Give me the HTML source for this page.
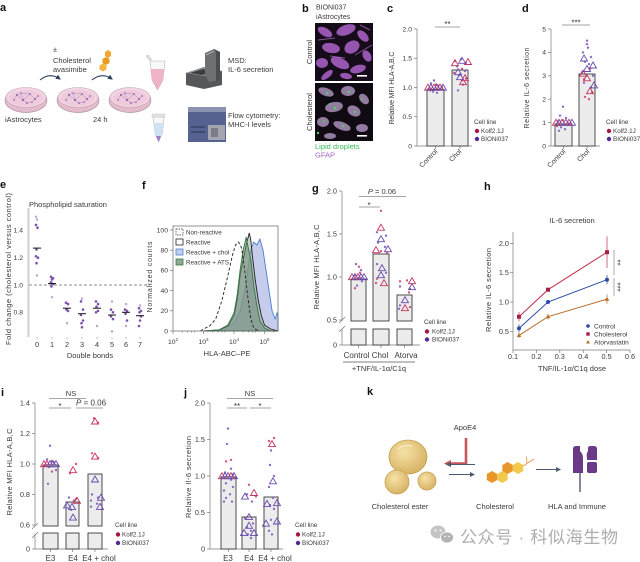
<!DOCTYPE html>
<html><head><meta charset="utf-8"><style>
html,body{margin:0;padding:0;background:#fff;}
svg{display:block;}
text{font-family:"Liberation Sans","Noto Sans CJK SC",sans-serif;fill:#3a3a3a;}
.pl{font-weight:bold;font-size:11px;fill:#111;}
.tk{font-size:6.8px;fill:#555;}
.tk7{font-size:7.3px;fill:#555;}
.ax{font-size:7px;}
.lg{font-size:6.3px;}
.bar{fill:#ececec;stroke:#3a3a3a;stroke-width:0.9;}
.axl{stroke:#777;stroke-width:0.7;fill:none;}
.dr circle{fill:#d25a75;}
.dp circle{fill:#8c6cc2;}
.tr use{stroke:#c6335a;}
.tp use{stroke:#6a4aad;}
</style></head><body>
<svg width="640" height="562" viewBox="0 0 640 562" xmlns="http://www.w3.org/2000/svg">
<defs>
<path id="tri" d="M0,-3.3 L3.5,2.7 L-3.5,2.7 Z" fill="none" stroke-width="0.9"/>
<marker id="ahd" markerWidth="6" markerHeight="6" refX="4" refY="3" orient="auto" markerUnits="userSpaceOnUse"><path d="M0,0.5 L5,3 L0,5.5 Z" fill="#2d4060"/></marker>
<marker id="ahk" markerWidth="6" markerHeight="6" refX="4" refY="3" orient="auto" markerUnits="userSpaceOnUse"><path d="M0,0.5 L5,3 L0,5.5 Z" fill="#4a5a70"/></marker>
<marker id="ahr" markerWidth="8" markerHeight="8" refX="5" refY="4" orient="auto" markerUnits="userSpaceOnUse"><path d="M0,0.5 L7,4 L0,7.5 Z" fill="#c8565a"/></marker>
<radialGradient id="gold" cx="0.4" cy="0.35" r="0.7"><stop offset="0" stop-color="#f6e2a6"/><stop offset="1" stop-color="#d6b060"/></radialGradient>
<g id="dish">
 <ellipse cx="0" cy="2.5" rx="21" ry="12" fill="#e2bccd" stroke="#b592a5" stroke-width="0.7"/>
 <ellipse cx="0" cy="-0.5" rx="20" ry="10" fill="#f3d6e3" stroke="#c7a3b6" stroke-width="0.6"/>
 <ellipse cx="0" cy="0" rx="17" ry="8" fill="#eecadb"/>
 <g fill="#7b5aa6"><circle cx="-9" cy="-3" r="1"/><circle cx="-3" cy="2" r="1.1"/><circle cx="4" cy="-4" r="0.9"/><circle cx="9" cy="1" r="1"/><circle cx="-12" cy="2" r="0.8"/><circle cx="1" cy="5" r="0.9"/><circle cx="12" cy="-2" r="0.8"/><circle cx="-5" cy="-5" r="0.8"/><circle cx="6" cy="4" r="0.8"/></g>
 <g stroke="#9b7cc0" stroke-width="0.4" fill="none"><path d="M-12,2 L-9,-3 L-3,2 L4,-4 L9,1 L12,-2"/><path d="M-5,-5 L-3,2 L1,5 L6,4 L9,1"/><path d="M-9,-3 L-5,-5 L4,-4"/></g>
</g>
</defs>

<!-- ===== Panel a ===== -->
<text class="pl" x="0" y="11">a</text>
<use href="#dish" x="26" y="98"/>
<use href="#dish" x="78" y="98"/>
<use href="#dish" x="130" y="98"/>
<text x="5" y="122" font-size="7.5">iAstrocytes</text>
<text x="93" y="122" font-size="7.5">24 h</text>
<text x="53" y="52" font-size="7.5">±</text>
<text x="53" y="63" font-size="7.5">Cholesterol</text>
<text x="53" y="72" font-size="7.5">avasimibe</text>
<path d="M40,80 Q50,72 60,79" stroke="#2d4060" stroke-width="1.1" fill="none" marker-end="url(#ahd)"/>
<path d="M92,80 Q102,72 112,79" stroke="#2d4060" stroke-width="1.1" fill="none" marker-end="url(#ahd)"/>
<g>
 <polygon points="108,50 111,52 111,56 108,58 105,56 105,52" fill="#f0a830"/>
 <polygon points="106,57 109.5,59 109.5,63 106,65 102.5,63 102.5,59" fill="#e99a22"/>
 <polygon points="103,63.5 106.5,65.5 106.5,69.5 103,71.5 99.5,69.5 99.5,65.5" fill="#f3b640"/>
</g>
<!-- tubes -->
<path d="M150,61 L165,61 L163,80 L157.5,90 L152,80 Z" fill="#f7f7f7" stroke="#b8b8b8" stroke-width="0.6"/>
<path d="M150.6,69 L164.4,69 L163,80 L157.5,90 L152,80 Z" fill="#f0b3c6"/>
<path d="M150,61 L146,56 L148,55 L152,60" fill="#ddd" stroke="#b8b8b8" stroke-width="0.5"/>
<path d="M153,117 L164,117 L162.5,133 L158.5,142 L155,133 Z" fill="#f7f7f7" stroke="#b8b8b8" stroke-width="0.6"/>
<path d="M153.5,123 L163.5,123 L162.5,133 L158.5,142 L155,133 Z" fill="#cfe2f3"/>
<path d="M156,136 L161,136 L158.5,142 Z" fill="#9b7cc8"/>
<rect x="152" y="114" width="13" height="3" fill="#e3e3e3" stroke="#bbb" stroke-width="0.4"/>
<!-- MSD machine -->
<polygon points="186,73 204,67 222,71 222,85 204,89 186,85" fill="#55575b"/>
<polygon points="186,73 204,67 222,71 204,76" fill="#8d8f93"/>
<polygon points="190,73 203,69 214,72 202,75" fill="#3c3e41"/>
<path d="M205,53 L214,49 L220,52 L220,80 L209,82 L205,75 Z" fill="#6e7074"/>
<path d="M214,49 L220,52 L220,80 L216,81 L216,52 Z" fill="#4b4d50"/>
<path d="M206,55 L214,51" stroke="#a4a6aa" stroke-width="1.2"/>
<text x="228" y="63" font-size="7.5">MSD:</text>
<text x="228" y="72" font-size="7.5">IL-6 secretion</text>
<!-- flow cytometer -->
<rect x="188" y="110" width="38" height="32" fill="#55618f"/>
<rect x="188" y="107" width="38" height="5" fill="#8a92b2"/>
<rect x="208" y="125" width="17" height="15" fill="#a3a6b0"/>
<rect x="211" y="128" width="7" height="9" fill="#7a7d86"/>
<rect x="191" y="126" width="14" height="2" fill="#3f4a73"/>
<rect x="191" y="131" width="14" height="2" fill="#3f4a73"/>
<text x="228" y="118" font-size="7.5">Flow cytometry:</text>
<text x="228" y="127" font-size="7.5">MHC-I levels</text>

<!-- ===== Panel b ===== -->
<text class="pl" x="302" y="12">b</text>
<text x="316" y="9.5" font-size="7">BIONi037</text>
<text x="316" y="19" font-size="7">iAstrocytes</text>
<rect x="315" y="23" width="58" height="58" fill="#150b19"/>
<g fill="#a45fc0" opacity="0.9">
 <ellipse cx="325" cy="32" rx="8" ry="4" transform="rotate(30 325 32)"/>
 <ellipse cx="346" cy="30" rx="10" ry="5" transform="rotate(-20 346 30)"/>
 <ellipse cx="363" cy="36" rx="7" ry="4" transform="rotate(45 363 36)"/>
 <ellipse cx="331" cy="48" rx="9" ry="5" transform="rotate(10 331 48)"/>
 <ellipse cx="352" cy="47" rx="8" ry="6" transform="rotate(-30 352 47)"/>
 <ellipse cx="367" cy="56" rx="6" ry="4" transform="rotate(60 367 56)"/>
 <ellipse cx="322" cy="63" rx="6" ry="5"/>
 <ellipse cx="340" cy="63" rx="10" ry="5" transform="rotate(25 340 63)"/>
 <ellipse cx="358" cy="69" rx="8" ry="4" transform="rotate(-15 358 69)"/>
 <ellipse cx="327" cy="75" rx="7" ry="3" transform="rotate(-40 327 75)"/>
 <ellipse cx="346" cy="76" rx="6" ry="3" transform="rotate(10 346 76)"/>
</g>
<g stroke="#b070d0" stroke-width="1" opacity="0.7"><path d="M318,40 L335,38"/><path d="M355,55 L372,45"/><path d="M330,56 L345,58"/><path d="M360,25 L370,30"/></g>
<rect x="357" y="75" width="10" height="1.6" fill="#fff"/>
<rect x="315" y="83" width="58" height="58" fill="#100a12"/>
<g fill="#a98fb8" opacity="0.85">
 <ellipse cx="326" cy="92" rx="8" ry="4" transform="rotate(20 326 92)"/>
 <ellipse cx="348" cy="91" rx="7" ry="5"/>
 <ellipse cx="364" cy="99" rx="6" ry="4" transform="rotate(50 364 99)"/>
 <ellipse cx="334" cy="107" rx="9" ry="5" transform="rotate(-10 334 107)"/>
 <ellipse cx="354" cy="111" rx="7" ry="5" transform="rotate(30 354 111)"/>
 <ellipse cx="323" cy="122" rx="6" ry="5"/>
 <ellipse cx="342" cy="126" rx="9" ry="4" transform="rotate(20 342 126)"/>
 <ellipse cx="362" cy="128" rx="6" ry="4"/>
 <ellipse cx="330" cy="136" rx="6" ry="3"/>
</g>
<g fill="#4fd06a"><circle cx="327" cy="93" r="1.2"/><circle cx="349" cy="92" r="1.3"/><circle cx="335" cy="108" r="1.4"/><circle cx="355" cy="112" r="1.2"/><circle cx="343" cy="126" r="1.3"/><circle cx="324" cy="121" r="1"/><circle cx="362" cy="99" r="1"/><circle cx="330" cy="104" r="1"/><circle cx="318" cy="133" r="1.2"/></g>
<rect x="357" y="135" width="10" height="1.6" fill="#fff"/>
<text transform="translate(312,52) rotate(-90)" text-anchor="middle" font-size="7.5">Control</text>
<text transform="translate(312,112) rotate(-90)" text-anchor="middle" font-size="7.5">Cholesterol</text>
<text x="315" y="149" font-size="7.5" style="fill:#3dbb5a">Lipid droplets</text>
<text x="315" y="157.5" font-size="7.5" style="fill:#a566c8">GFAP</text>

<!-- ===== Panel c ===== -->
<text class="pl" x="387" y="12">c</text>
<line class="axl" x1="417" y1="29" x2="417" y2="146"/>
<g class="axl"><line x1="414" y1="29" x2="417" y2="29"/><line x1="414" y1="58.25" x2="417" y2="58.25"/><line x1="414" y1="87.5" x2="417" y2="87.5"/><line x1="414" y1="116.75" x2="417" y2="116.75"/><line x1="414" y1="146" x2="417" y2="146"/>
<line x1="417" y1="146" x2="472" y2="146"/><line x1="435.5" y1="146" x2="435.5" y2="149"/><line x1="460" y1="146" x2="460" y2="149"/></g>
<g class="tk" text-anchor="end"><text x="412" y="31.3">2.0</text><text x="412" y="60.5">1.5</text><text x="412" y="89.8">1.0</text><text x="412" y="119">0.5</text><text x="412" y="148.3">0</text></g>
<text class="ax" transform="translate(394,88) rotate(-90)" text-anchor="middle" textLength="73">Relative MFI HLA-A,B,C</text>
<rect class="bar" x="427" y="89.3" width="17" height="56.7"/>
<rect class="bar" x="452" y="70" width="16" height="76"/>
<line x1="435" y1="27" x2="460" y2="27" stroke="#888" stroke-width="0.7"/>
<text x="447.5" y="27" font-size="8" text-anchor="middle">**</text>
<text class="ax" transform="translate(438,152) rotate(-45)" text-anchor="end" font-size="7.5">Control</text>
<text class="ax" transform="translate(462,152) rotate(-45)" text-anchor="end" font-size="7.5">Chol</text>
<g class="dp"><circle cx="434" cy="80.5" r="1.2"/><circle cx="431" cy="83.4" r="1.2"/><circle cx="438" cy="85.7" r="1.2"/><circle cx="429" cy="88.7" r="1.2"/><circle cx="441" cy="89.3" r="1.2"/><circle cx="433" cy="91.6" r="1.2"/><circle cx="437" cy="92.8" r="1.2"/>
<circle cx="461" cy="59.4" r="1.2"/><circle cx="457" cy="66.4" r="1.2"/><circle cx="465" cy="71.1" r="1.2"/><circle cx="459" cy="75.2" r="1.2"/><circle cx="463" cy="84.6" r="1.2"/><circle cx="458" cy="90.4" r="1.2"/></g>
<g class="dr"><circle cx="436" cy="84.6" r="1.2"/><circle cx="442" cy="86.9" r="1.2"/><circle cx="430" cy="90.4" r="1.2"/>
<circle cx="455" cy="61.2" r="1.2"/><circle cx="466" cy="62.9" r="1.2"/><circle cx="462" cy="68.8" r="1.2"/><circle cx="454" cy="72.9" r="1.2"/><circle cx="466" cy="78.7" r="1.2"/></g>
<g class="tr"><use href="#tri" x="428" y="87.5"/><use href="#tri" x="434" y="87.5"/><use href="#tri" x="440" y="87.5"/><use href="#tri" x="455" y="63"/><use href="#tri" x="468" y="61.8"/><use href="#tri" x="465" y="78"/><use href="#tri" x="463" y="82"/></g>
<g class="tp"><use href="#tri" x="431" y="87.5"/><use href="#tri" x="437" y="87.5"/><use href="#tri" x="443" y="87.5"/><use href="#tri" x="462" y="60.6"/><use href="#tri" x="458" y="72"/><use href="#tri" x="460" y="77"/></g>
<text class="lg" x="474" y="124">Cell line</text>
<circle cx="477" cy="131" r="2.2" fill="#a3183f"/><text class="lg" x="481" y="133">Kolf2.1J</text>
<circle cx="477" cy="139" r="2.2" fill="#55299a"/><text class="lg" x="481" y="141">BIONi037</text>

<!-- ===== Panel d ===== -->
<text class="pl" x="522" y="12">d</text>
<line class="axl" x1="551" y1="29" x2="551" y2="146"/>
<g class="axl"><line x1="548" y1="29" x2="551" y2="29"/><line x1="548" y1="52.4" x2="551" y2="52.4"/><line x1="548" y1="75.8" x2="551" y2="75.8"/><line x1="548" y1="99.2" x2="551" y2="99.2"/><line x1="548" y1="122.6" x2="551" y2="122.6"/><line x1="548" y1="146" x2="551" y2="146"/>
<line x1="551" y1="146" x2="600" y2="146"/><line x1="563.5" y1="146" x2="563.5" y2="149"/><line x1="587" y1="146" x2="587" y2="149"/></g>
<g class="tk" text-anchor="end"><text x="546" y="31.3">5</text><text x="546" y="54.7">4</text><text x="546" y="78.1">3</text><text x="546" y="101.5">2</text><text x="546" y="124.9">1</text><text x="546" y="148.3">0</text></g>
<text class="ax" transform="translate(529,88) rotate(-90)" text-anchor="middle" textLength="81">Relative IL-6 secretion</text>
<rect class="bar" x="555" y="124" width="17" height="22"/>
<rect class="bar" x="579" y="74" width="16" height="72"/>
<line x1="562" y1="25" x2="590" y2="25" stroke="#888" stroke-width="0.7"/>
<text x="576" y="25.5" font-size="8" text-anchor="middle">***</text>
<text class="ax" transform="translate(566,152) rotate(-45)" text-anchor="end" font-size="7.5">Control</text>
<text class="ax" transform="translate(590,152) rotate(-45)" text-anchor="end" font-size="7.5">Chol</text>
<g class="dp"><circle cx="563" cy="106.7" r="1.2"/><circle cx="560" cy="115.6" r="1.2"/><circle cx="566" cy="117.9" r="1.2"/><circle cx="558" cy="121.4" r="1.2"/><circle cx="568" cy="124.9" r="1.2"/><circle cx="561" cy="127.3" r="1.2"/><circle cx="565" cy="129.2" r="1.2"/><circle cx="559" cy="130.8" r="1.2"/>
<circle cx="587" cy="40.7" r="1.2"/><circle cx="587" cy="44.2" r="1.2"/><circle cx="588" cy="47.7" r="1.2"/><circle cx="583" cy="52.4" r="1.2"/><circle cx="591" cy="57.1" r="1.2"/><circle cx="585" cy="61.8" r="1.2"/><circle cx="589" cy="64.1" r="1.2"/><circle cx="582" cy="72.3" r="1.2"/><circle cx="593" cy="75.8" r="1.2"/><circle cx="584" cy="82.8" r="1.2"/><circle cx="591" cy="87.5" r="1.2"/></g>
<g class="dr"><circle cx="563" cy="120.3" r="1.2"/><circle cx="569" cy="123.8" r="1.2"/><circle cx="557" cy="126.1" r="1.2"/>
<circle cx="590" cy="68.8" r="1.2"/><circle cx="584" cy="79.3" r="1.2"/><circle cx="592" cy="92.2" r="1.2"/><circle cx="585" cy="96.9" r="1.2"/><circle cx="589" cy="99.2" r="1.2"/></g>
<g class="tr"><use href="#tri" x="556" y="122.6"/><use href="#tri" x="562" y="122.6"/><use href="#tri" x="569" y="122.6"/><use href="#tri" x="587" y="78.1"/><use href="#tri" x="590" y="91"/><use href="#tri" x="583" y="73.5"/></g>
<g class="tp"><use href="#tri" x="559" y="122.6"/><use href="#tri" x="566" y="122.6"/><use href="#tri" x="572" y="122.6"/><use href="#tri" x="584" y="58.3"/><use href="#tri" x="593" y="65.3"/><use href="#tri" x="587" y="68.8"/><use href="#tri" x="594" y="85.2"/></g>
<text class="lg" x="606" y="124">Cell line</text>
<circle cx="609" cy="131" r="2.2" fill="#a3183f"/><text class="lg" x="613" y="133">Kolf2.1J</text>
<circle cx="609" cy="139" r="2.2" fill="#55299a"/><text class="lg" x="613" y="141">BIONi037</text>

<!-- ===== Panel e ===== -->
<text class="pl" x="0" y="188">e</text>
<text x="29" y="207" font-size="7.5">Phospholipid saturation</text>
<line x1="28.5" y1="208" x2="28.5" y2="337" stroke="#cfcfcf" stroke-width="2"/>
<g class="tk" text-anchor="end"><text x="23" y="232.7">1.4</text><text x="23" y="260">1.2</text><text x="23" y="287.3">1.0</text><text x="23" y="314.6">0.8</text></g>
<line x1="29" y1="285" x2="150" y2="285" stroke="#666" stroke-width="0.7" stroke-dasharray="3,2"/>
<g class="tk7" text-anchor="middle"><text x="37" y="347">0</text><text x="52" y="347">1</text><text x="67" y="347">2</text><text x="82" y="347">3</text><text x="97" y="347">4</text><text x="112" y="347">5</text><text x="126" y="347">6</text><text x="140" y="347">7</text></g>
<text x="90" y="358" font-size="7.5" text-anchor="middle">Double bonds</text>
<text transform="translate(11,269) rotate(-90)" text-anchor="middle" font-size="7.5" textLength="152">Fold change (cholesterol versus control)</text>
<g fill="#7b52ab">
<circle cx="36" cy="216.8" r="1.2" fill="#b9a3d6"/><circle cx="37" cy="219.5" r="1.2" fill="#b9a3d6"/><circle cx="36" cy="224.9" r="1.3"/><circle cx="37.5" cy="227.7" r="1.3"/><circle cx="36.5" cy="249.5" r="1.3"/><circle cx="36" cy="256.3" r="1.3"/><circle cx="38" cy="257.7" r="1.3"/><circle cx="36.5" cy="263.2" r="1.3"/><circle cx="37" cy="275.4" r="1.2" fill="#b9a3d6"/>
<circle cx="51" cy="276.8" r="1.3"/><circle cx="53" cy="278.2" r="1.3"/><circle cx="52" cy="279.5" r="1.3"/><circle cx="51" cy="282.3" r="1.3"/><circle cx="53" cy="284" r="1.3"/><circle cx="51.5" cy="286.4" r="1.3"/><circle cx="52" cy="297.3" r="1.2" fill="#b9a3d6"/>
<circle cx="66" cy="302.7" r="1.3"/><circle cx="68" cy="304.1" r="1.3"/><circle cx="66.5" cy="309.6" r="1.3"/><circle cx="68" cy="310.9" r="1.3"/><circle cx="67" cy="323.2" r="1.2" fill="#b9a3d6"/>
<circle cx="82" cy="298.7" r="1.2" fill="#b9a3d6"/><circle cx="81" cy="301.4" r="1.3"/><circle cx="83" cy="309.6" r="1.3"/><circle cx="81" cy="315" r="1.3"/><circle cx="83" cy="320.5" r="1.3"/><circle cx="81.5" cy="323.2" r="1.3"/><circle cx="82" cy="327.3" r="1.3"/>
<circle cx="96" cy="301.4" r="1.3"/><circle cx="98" cy="304.1" r="1.3"/><circle cx="96.5" cy="306.8" r="1.3"/><circle cx="98" cy="310.9" r="1.3"/><circle cx="96" cy="312.3" r="1.3"/><circle cx="97" cy="326" r="1.2" fill="#b9a3d6"/>
<circle cx="112" cy="301.4" r="1.2" fill="#b9a3d6"/><circle cx="111" cy="309.6" r="1.3"/><circle cx="113" cy="312.3" r="1.3"/><circle cx="111" cy="316.4" r="1.3"/><circle cx="113" cy="319.1" r="1.3"/><circle cx="112" cy="331.4" r="1.2" fill="#b9a3d6"/>
<circle cx="126" cy="304.1" r="1.2" fill="#b9a3d6"/><circle cx="125" cy="309.6" r="1.3"/><circle cx="127" cy="310.9" r="1.3"/><circle cx="125.5" cy="313.7" r="1.3"/><circle cx="127" cy="320.5" r="1.3"/><circle cx="126" cy="326" r="1.2" fill="#b9a3d6"/>
<circle cx="140" cy="305.5" r="1.2" fill="#b9a3d6"/><circle cx="139" cy="308.2" r="1.3"/><circle cx="141" cy="310.9" r="1.3"/><circle cx="139.5" cy="312.3" r="1.3"/><circle cx="141" cy="316.4" r="1.3"/><circle cx="140" cy="320.5" r="1.3"/><circle cx="139" cy="326" r="1.3"/>
</g>
<g stroke="#111" stroke-width="1"><line x1="33" y1="248.1" x2="41" y2="248.1"/><line x1="48" y1="283.6" x2="56" y2="283.6"/><line x1="63" y1="308.2" x2="71" y2="308.2"/><line x1="78" y1="313.7" x2="86" y2="313.7"/><line x1="93" y1="308.2" x2="101" y2="308.2"/><line x1="108" y1="315" x2="116" y2="315"/><line x1="122" y1="312.3" x2="130" y2="312.3"/><line x1="136" y1="315.7" x2="144" y2="315.7"/></g>
<g stroke="#999" stroke-width="0.6"><line x1="37" y1="337" x2="37" y2="339"/><line x1="52" y1="337" x2="52" y2="339"/><line x1="67" y1="337" x2="67" y2="339"/><line x1="82" y1="337" x2="82" y2="339"/><line x1="97" y1="337" x2="97" y2="339"/><line x1="112" y1="337" x2="112" y2="339"/><line x1="126" y1="337" x2="126" y2="339"/><line x1="140" y1="337" x2="140" y2="339"/></g>

<!-- ===== Panel f ===== -->
<text class="pl" x="142" y="189">f</text>
<path d="M218.75,331 L234,323 L240.1,311 L244.7,291 L247.7,270 L250.8,250 L253.8,242 L256.9,245 L259.9,239 L263,250 L266,270 L269.1,291 L272.1,311 L275.2,319 L277,313 L278,316 L278,331 Z" fill="#c6cdec" stroke="#4a7fd0" stroke-width="0.9"/>
<path d="M203.5,331 L218.75,330 L227.9,326 L234,316 L237.05,301 L240.1,275.5 L243.2,260 L246.2,245 L249.25,233 L250.8,240 L252.3,255 L255.35,280.5 L258.4,301 L261.45,316 L264.5,325 L270.6,329 L278,331 Z" fill="#a9aca4" fill-opacity="0.55" stroke="#222" stroke-width="0.9"/>
<path d="M203.5,331 L218.75,330 L227.9,325 L234,313 L237.05,296 L240.1,270 L243.2,250 L246.2,237 L247.7,245 L250.8,260 L253.8,286 L256.9,306 L259.9,321 L264.5,328 L270.6,331 Z" fill="#6e8f7a" fill-opacity="0.6" stroke="#2f7a3f" stroke-width="0.9"/>
<path d="M200.5,331 L203.5,329 L209.6,326 L215.7,319 L221.8,301 L227.9,275.5 L232.5,255 L235.5,245 L238.6,242 L241.6,248 L244.7,270 L247.7,296 L250.8,319 L253.8,328 L258.4,331" fill="none" stroke="#222" stroke-width="0.9" stroke-dasharray="3,2"/>
<rect x="173" y="226" width="105" height="105" fill="none" stroke="#666" stroke-width="0.7"/>
<g class="axl"><line x1="170" y1="230" x2="173" y2="230"/><line x1="170" y1="250.2" x2="173" y2="250.2"/><line x1="170" y1="270.4" x2="173" y2="270.4"/><line x1="170" y1="290.6" x2="173" y2="290.6"/><line x1="170" y1="310.8" x2="173" y2="310.8"/><line x1="170" y1="331" x2="173" y2="331"/>
<line x1="173" y1="331" x2="173" y2="334"/><line x1="203.5" y1="331" x2="203.5" y2="334"/><line x1="234" y1="331" x2="234" y2="334"/><line x1="264.5" y1="331" x2="264.5" y2="334"/>
<line x1="182.2" y1="331" x2="182.2" y2="332.5"/><line x1="187.6" y1="331" x2="187.6" y2="332.5"/><line x1="191.4" y1="331" x2="191.4" y2="332.5"/><line x1="194.3" y1="331" x2="194.3" y2="332.5"/><line x1="212.7" y1="331" x2="212.7" y2="332.5"/><line x1="218.1" y1="331" x2="218.1" y2="332.5"/><line x1="221.9" y1="331" x2="221.9" y2="332.5"/><line x1="224.8" y1="331" x2="224.8" y2="332.5"/><line x1="243.2" y1="331" x2="243.2" y2="332.5"/><line x1="248.6" y1="331" x2="248.6" y2="332.5"/><line x1="252.4" y1="331" x2="252.4" y2="332.5"/><line x1="255.3" y1="331" x2="255.3" y2="332.5"/><line x1="273.7" y1="331" x2="273.7" y2="332.5"/></g>
<g class="tk" text-anchor="end"><text x="168" y="232.3">100</text><text x="168" y="252.5">80</text><text x="168" y="272.7">60</text><text x="168" y="292.9">40</text><text x="168" y="313.1">20</text><text x="168" y="333.3">0</text></g>
<g class="tk" text-anchor="middle"><text x="173" y="344">10<tspan dy="-3" font-size="4.5">2</tspan></text><text x="203.5" y="344">10<tspan dy="-3" font-size="4.5">3</tspan></text><text x="234" y="344">10<tspan dy="-3" font-size="4.5">4</tspan></text><text x="264.5" y="344">10<tspan dy="-3" font-size="4.5">5</tspan></text></g>
<text x="227" y="356" font-size="7.5" text-anchor="middle">HLA-ABC–PE</text>
<text class="ax" transform="translate(152,277) rotate(-90)" text-anchor="middle" textLength="71">Normalized counts</text>
<rect x="176" y="229" width="7" height="6" fill="#fff" stroke="#333" stroke-width="0.7" stroke-dasharray="1.5,1"/>
<rect x="176" y="239" width="7" height="6" fill="#fff" stroke="#222" stroke-width="0.8"/>
<rect x="176" y="249" width="7" height="6" fill="#c6cdec" stroke="#4a7fd0" stroke-width="0.8"/>
<rect x="176" y="259" width="7" height="6" fill="#93a898" stroke="#2f7a3f" stroke-width="0.8"/>
<g class="lg"><text x="186" y="234.5">Non-reactive</text><text x="186" y="244.5">Reactive</text><text x="186" y="254.5">Reactive + chol</text><text x="186" y="264.5">Reactive + ATS</text></g>

<!-- ===== Panel g ===== -->
<text class="pl" x="312" y="192">g</text>
<line class="axl" x1="342" y1="191" x2="342" y2="321"/>
<line class="axl" x1="342" y1="329" x2="342" y2="345"/>
<g stroke="#777" stroke-width="0.7"><line x1="339" y1="323" x2="345" y2="317"/><line x1="339" y1="332" x2="345" y2="326"/></g>
<g class="axl"><line x1="339" y1="191" x2="342" y2="191"/><line x1="339" y1="234" x2="342" y2="234"/><line x1="339" y1="277" x2="342" y2="277"/><line x1="339" y1="320" x2="342" y2="320"/><line x1="339" y1="345" x2="342" y2="345"/>
<line x1="342" y1="345" x2="420" y2="345"/><line x1="358.5" y1="345" x2="358.5" y2="348"/><line x1="381" y1="345" x2="381" y2="348"/><line x1="404.5" y1="345" x2="404.5" y2="348"/></g>
<g class="tk7" text-anchor="end"><text x="337" y="193.5">2.0</text><text x="337" y="236.5">1.5</text><text x="337" y="279.5">1.0</text><text x="337" y="322.5">0.5</text><text x="337" y="347.5">0</text></g>
<text transform="translate(319,267) rotate(-90)" text-anchor="middle" font-size="7.5" textLength="85">Relative MFI HLA-A,B,C</text>
<rect class="bar" x="351" y="279" width="15" height="42"/><rect class="bar" x="351" y="329" width="15" height="16"/>
<rect class="bar" x="373" y="254" width="16" height="67"/><rect class="bar" x="373" y="329" width="16" height="16"/>
<rect class="bar" x="397" y="295" width="15" height="26"/><rect class="bar" x="397" y="329" width="15" height="16"/>
<g font-size="8" text-anchor="middle"><text x="356.5" y="358">Control</text><text x="380" y="358">Chol</text><text x="406" y="358">Atorva</text></g>
<line x1="343" y1="362" x2="415" y2="362" stroke="#555" stroke-width="0.7"/>
<text x="379" y="371" font-size="7.5" text-anchor="middle">+TNF/IL-1α/C1q</text>
<line x1="359" y1="196.5" x2="406" y2="196.5" stroke="#888" stroke-width="0.7"/>
<text x="382" y="194" font-size="7.5" text-anchor="middle"><tspan font-style="italic">P</tspan> = 0.06</text>
<line x1="359" y1="207" x2="380" y2="207" stroke="#888" stroke-width="0.7"/>
<text x="369" y="208" font-size="8" text-anchor="middle">*</text>
<g class="dp"><circle cx="356" cy="264.1" r="1.2"/><circle cx="361" cy="270.1" r="1.2"/><circle cx="355" cy="275.3" r="1.2"/><circle cx="362" cy="281.3" r="1.2"/><circle cx="357" cy="285.6" r="1.2"/>
<circle cx="377" cy="232.3" r="1.2"/><circle cx="386" cy="235.7" r="1.2"/><circle cx="378" cy="242.6" r="1.2"/><circle cx="385" cy="246.9" r="1.2"/><circle cx="377" cy="264.1" r="1.2"/><circle cx="386" cy="272.7" r="1.2"/>
<circle cx="400" cy="286.5" r="1.2"/><circle cx="410" cy="289" r="1.2"/><circle cx="400" cy="305.4" r="1.2"/><circle cx="399" cy="308.8" r="1.2"/></g>
<g class="dr"><circle cx="359" cy="266.7" r="1.2"/><circle cx="360" cy="272.7" r="1.2"/><circle cx="359" cy="278.7" r="1.2"/><circle cx="355" cy="288.2" r="1.2"/>
<circle cx="381" cy="210.8" r="1.2"/><circle cx="381" cy="251.2" r="1.2"/><circle cx="387" cy="252.9" r="1.2"/><circle cx="377" cy="278.7" r="1.2"/><circle cx="376" cy="283" r="1.2"/>
<circle cx="407" cy="280.4" r="1.2"/><circle cx="400" cy="281.3" r="1.2"/><circle cx="409" cy="292.5" r="1.2"/><circle cx="410" cy="307.1" r="1.2"/></g>
<g class="tr"><use href="#tri" x="352" y="277"/><use href="#tri" x="358" y="277"/><use href="#tri" x="381" y="227.5"/><use href="#tri" x="376" y="250"/><use href="#tri" x="384" y="283"/><use href="#tri" x="412" y="281"/><use href="#tri" x="405" y="308"/></g>
<g class="tp"><use href="#tri" x="355" y="277"/><use href="#tri" x="361" y="277"/><use href="#tri" x="364" y="277"/><use href="#tri" x="381" y="239"/><use href="#tri" x="388" y="249"/><use href="#tri" x="382" y="268"/><use href="#tri" x="381" y="275"/><use href="#tri" x="412" y="287"/><use href="#tri" x="405" y="300"/></g>
<text class="lg" x="424" y="324">Cell line</text>
<circle cx="427" cy="331.5" r="2.2" fill="#a3183f"/><text class="lg" x="432" y="333.5">Kolf2.1J</text>
<circle cx="427" cy="339.5" r="2.2" fill="#55299a"/><text class="lg" x="432" y="341.5">BIONi037</text>

<!-- ===== Panel h ===== -->
<text class="pl" x="484" y="190">h</text>
<text x="572" y="223" font-size="7.5" text-anchor="middle">IL-6 secretion</text>
<line class="axl" x1="513" y1="232" x2="513" y2="350"/>
<line class="axl" x1="513" y1="350" x2="630" y2="350"/>
<g class="axl"><line x1="510" y1="243.4" x2="513" y2="243.4"/><line x1="510" y1="272.7" x2="513" y2="272.7"/><line x1="510" y1="302" x2="513" y2="302"/><line x1="510" y1="331.3" x2="513" y2="331.3"/>
<line x1="513" y1="350" x2="513" y2="353"/><line x1="536.4" y1="350" x2="536.4" y2="353"/><line x1="559.8" y1="350" x2="559.8" y2="353"/><line x1="583.2" y1="350" x2="583.2" y2="353"/><line x1="606.6" y1="350" x2="606.6" y2="353"/><line x1="630" y1="350" x2="630" y2="353"/></g>
<g class="tk7" text-anchor="end"><text x="509" y="245.9">2.0</text><text x="509" y="275.2">1.5</text><text x="509" y="304.5">1.0</text><text x="509" y="333.8">0.5</text></g>
<g class="tk7" text-anchor="middle"><text x="513" y="359">0.1</text><text x="536.4" y="359">0.2</text><text x="559.8" y="359">0.3</text><text x="583.2" y="359">0.4</text><text x="606.6" y="359">0.5</text><text x="630" y="359">0.6</text></g>
<text x="572" y="371" font-size="7.5" text-anchor="middle">TNF/IL-1α/C1q dose</text>
<text transform="translate(491,290) rotate(-90)" text-anchor="middle" font-size="7.5" textLength="84">Relative IL-6 secretion</text>
<g stroke-width="0.7">
<line x1="519" y1="312" x2="519" y2="321.4" stroke="#c0304a"/><line x1="548" y1="288.5" x2="548" y2="291" stroke="#c0304a"/><line x1="607" y1="236.4" x2="607" y2="268" stroke="#c0304a"/>
<line x1="519" y1="324.3" x2="519" y2="332.5" stroke="#2a4aa8"/><line x1="607" y1="275" x2="607" y2="284.4" stroke="#2a4aa8"/>
<line x1="519" y1="333" x2="519" y2="338" stroke="#b8702a"/><line x1="548" y1="313.7" x2="548" y2="319.6" stroke="#b8702a"/><line x1="607" y1="294.4" x2="607" y2="303.8" stroke="#b8702a"/>
</g>
<polyline points="519,316.7 548,289.7 607,252.2" fill="none" stroke="#c0304a" stroke-width="1"/>
<polyline points="519,328.4 548,302 607,279.7" fill="none" stroke="#2a4aa8" stroke-width="1"/>
<polyline points="519,335.4 548,316.7 607,299.1" fill="none" stroke="#b8702a" stroke-width="1"/>
<g fill="#a81d44"><rect x="517" y="314.7" width="4" height="4"/><rect x="546" y="287.7" width="4" height="4"/><rect x="605" y="250.2" width="4" height="4"/></g>
<g fill="#2a4aa8"><circle cx="519" cy="328.4" r="2"/><circle cx="548" cy="302" r="2"/><circle cx="607" cy="279.7" r="2"/></g>
<g fill="#b8702a"><path d="M519,333 L521.3,337 L516.7,337 Z"/><path d="M548,314.3 L550.3,318.3 L545.7,318.3 Z"/><path d="M607,296.7 L609.3,300.7 L604.7,300.7 Z"/></g>
<line x1="614" y1="250" x2="614" y2="275" stroke="#888" stroke-width="0.7"/>
<line x1="614" y1="278" x2="614" y2="296" stroke="#888" stroke-width="0.7"/>
<text transform="translate(614.5,262.5) rotate(90)" text-anchor="middle" font-size="8">**</text>
<text transform="translate(614.5,287) rotate(90)" text-anchor="middle" font-size="8">***</text>
<circle cx="588" cy="326" r="1.8" fill="#2a4aa8"/><text x="594" y="328.5" font-size="6.6">Control</text>
<rect x="586.3" y="332.3" width="3.4" height="3.4" fill="#a81d44"/><text x="594" y="336.5" font-size="6.6">Cholesterol</text>
<path d="M588,340 L590,343.5 L586,343.5 Z" fill="#b8702a"/><text x="594" y="344.5" font-size="6.6">Atorvastatin</text>

<!-- ===== Panel i ===== -->
<text class="pl" x="1" y="396">i</text>
<line class="axl" x1="35" y1="403" x2="35" y2="526"/>
<line class="axl" x1="35" y1="534" x2="35" y2="549"/>
<g stroke="#777" stroke-width="0.7"><line x1="32" y1="529" x2="38" y2="523"/><line x1="32" y1="538" x2="38" y2="532"/></g>
<g class="axl"><line x1="32" y1="403" x2="35" y2="403"/><line x1="32" y1="433.5" x2="35" y2="433.5"/><line x1="32" y1="464" x2="35" y2="464"/><line x1="32" y1="494.5" x2="35" y2="494.5"/><line x1="32" y1="525" x2="35" y2="525"/><line x1="32" y1="549" x2="35" y2="549"/>
<line x1="35" y1="549" x2="108" y2="549"/><line x1="50.5" y1="549" x2="50.5" y2="552"/><line x1="72.5" y1="549" x2="72.5" y2="552"/><line x1="95" y1="549" x2="95" y2="552"/></g>
<g class="tk7" text-anchor="end"><text x="30" y="405.5">1.4</text><text x="30" y="436">1.2</text><text x="30" y="466.5">1.0</text><text x="30" y="497">0.8</text><text x="30" y="527.5">0.6</text><text x="30" y="551.5">0</text></g>
<text transform="translate(12,472) rotate(-90)" text-anchor="middle" font-size="7.5" textLength="87">Relative MFI HLA-A,B,C</text>
<rect class="bar" x="43" y="465" width="15" height="61"/><rect class="bar" x="43" y="533" width="15" height="16"/>
<rect class="bar" x="66" y="502" width="13" height="24"/><rect class="bar" x="66" y="533" width="13" height="16"/>
<rect class="bar" x="88" y="474" width="14" height="52"/><rect class="bar" x="88" y="533" width="14" height="16"/>
<g font-size="8" text-anchor="middle"><text x="50.5" y="561">E3</text><text x="73" y="561">E4</text><text x="99" y="561">E4 + chol</text></g>
<text x="71" y="396" font-size="7.5" text-anchor="middle">NS</text>
<line x1="49" y1="398.5" x2="86" y2="398.5" stroke="#888" stroke-width="0.7"/>
<line x1="49" y1="408" x2="71" y2="408" stroke="#888" stroke-width="0.7"/>
<text x="60" y="409" font-size="8" text-anchor="middle">*</text>
<line x1="76" y1="408" x2="103" y2="408" stroke="#888" stroke-width="0.7"/>
<text x="91" y="405.5" font-size="8" text-anchor="middle"><tspan font-style="italic">P</tspan> = 0.06</text>
<g class="dp"><circle cx="50" cy="445.7" r="1.2"/><circle cx="47" cy="459.4" r="1.2"/><circle cx="54" cy="462.5" r="1.2"/><circle cx="49" cy="467" r="1.2"/><circle cx="56" cy="470.1" r="1.2"/><circle cx="48" cy="483.8" r="1.2"/>
<circle cx="69" cy="497.6" r="1.2"/><circle cx="76" cy="499" r="1.2"/><circle cx="71" cy="509.8" r="1.2"/>
<circle cx="92" cy="494.5" r="1.2"/><circle cx="98" cy="497.6" r="1.2"/><circle cx="91" cy="500.6" r="1.2"/><circle cx="97" cy="503.7" r="1.2"/><circle cx="91" cy="506.7" r="1.2"/></g>
<g class="dr"><circle cx="52" cy="461" r="1.2"/><circle cx="45" cy="465.5" r="1.2"/><circle cx="52" cy="471.6" r="1.2"/>
<circle cx="76" cy="464" r="1.2"/><circle cx="70" cy="473.2" r="1.2"/><circle cx="74" cy="500.6" r="1.2"/>
<circle cx="94" cy="418.3" r="1.2"/><circle cx="98" cy="422.8" r="1.2"/><circle cx="92" cy="453.3" r="1.2"/><circle cx="98" cy="457.9" r="1.2"/></g>
<g class="tr"><use href="#tri" x="44" y="464"/><use href="#tri" x="47" y="464"/><use href="#tri" x="73" y="470"/><use href="#tri" x="77" y="500.6"/><use href="#tri" x="95" y="421.3"/><use href="#tri" x="95" y="456.4"/></g>
<g class="tp"><use href="#tri" x="50" y="464"/><use href="#tri" x="53" y="464"/><use href="#tri" x="56" y="464"/><use href="#tri" x="67" y="505.2"/><use href="#tri" x="72" y="506.7"/><use href="#tri" x="73" y="517.4"/><use href="#tri" x="95" y="479.3"/><use href="#tri" x="101" y="497.6"/><use href="#tri" x="100" y="506.7"/></g>
<text class="lg" x="115" y="527">Cell line</text>
<circle cx="118" cy="534.5" r="2.2" fill="#a3183f"/><text class="lg" x="122" y="536.5">Kolf2.1J</text>
<circle cx="118" cy="543" r="2.2" fill="#55299a"/><text class="lg" x="122" y="545">BIONi037</text>

<!-- ===== Panel j ===== -->
<text class="pl" x="184" y="396">j</text>
<line class="axl" x1="210" y1="403" x2="210" y2="549"/>
<g class="axl"><line x1="207" y1="403" x2="210" y2="403"/><line x1="207" y1="439.5" x2="210" y2="439.5"/><line x1="207" y1="476" x2="210" y2="476"/><line x1="207" y1="512.5" x2="210" y2="512.5"/><line x1="207" y1="549" x2="210" y2="549"/>
<line x1="210" y1="549" x2="283" y2="549"/><line x1="228.5" y1="549" x2="228.5" y2="552"/><line x1="249" y1="549" x2="249" y2="552"/><line x1="271" y1="549" x2="271" y2="552"/></g>
<g class="tk7" text-anchor="end"><text x="205" y="405.5">2.0</text><text x="205" y="442">1.5</text><text x="205" y="478.5">1.0</text><text x="205" y="515">0.5</text><text x="205" y="551.5">0</text></g>
<text transform="translate(191,477) rotate(-90)" text-anchor="middle" font-size="7.5" textLength="82">Relative Il-6 secretion</text>
<rect class="bar" x="221" y="477" width="15" height="72"/>
<rect class="bar" x="242" y="517" width="14" height="32"/>
<rect class="bar" x="264" y="497" width="14" height="52"/>
<g font-size="8" text-anchor="middle"><text x="228" y="561">E3</text><text x="249" y="561">E4</text><text x="275" y="561">E4 + chol</text></g>
<text x="250" y="396" font-size="7.5" text-anchor="middle">NS</text>
<line x1="227" y1="398.5" x2="273" y2="398.5" stroke="#888" stroke-width="0.7"/>
<line x1="227" y1="408" x2="247" y2="408" stroke="#888" stroke-width="0.7"/>
<text x="237" y="409" font-size="8" text-anchor="middle">**</text>
<line x1="250" y1="408" x2="271" y2="408" stroke="#888" stroke-width="0.7"/>
<text x="260" y="409" font-size="8" text-anchor="middle">*</text>
<g class="dp"><circle cx="228" cy="428.6" r="1.2"/><circle cx="227" cy="443.9" r="1.2"/><circle cx="231" cy="468.7" r="1.2"/><circle cx="225" cy="472.4" r="1.2"/><circle cx="233" cy="474.5" r="1.2"/><circle cx="224" cy="477.5" r="1.2"/><circle cx="231" cy="479.7" r="1.2"/><circle cx="226" cy="483.3" r="1.2"/><circle cx="233" cy="487" r="1.2"/><circle cx="224" cy="490.6" r="1.2"/><circle cx="230" cy="494.3" r="1.2"/><circle cx="226" cy="497.9" r="1.2"/><circle cx="232" cy="501.6" r="1.2"/><circle cx="224" cy="501.6" r="1.2"/>
<circle cx="247" cy="494.3" r="1.2"/><circle cx="252" cy="501.6" r="1.2"/><circle cx="245" cy="518.3" r="1.2"/><circle cx="253" cy="523.5" r="1.2"/><circle cx="247" cy="527.1" r="1.2"/><circle cx="251" cy="530.8" r="1.2"/><circle cx="248" cy="534.4" r="1.2"/><circle cx="251" cy="538" r="1.2"/>
<circle cx="271" cy="450.5" r="1.2"/><circle cx="270" cy="465" r="1.2"/><circle cx="274" cy="476" r="1.2"/><circle cx="269" cy="487" r="1.2"/><circle cx="273" cy="497.9" r="1.2"/><circle cx="270" cy="505.2" r="1.2"/><circle cx="274" cy="508.9" r="1.2"/><circle cx="271" cy="519.8" r="1.2"/><circle cx="269" cy="530.8" r="1.2"/><circle cx="272" cy="534.4" r="1.2"/></g>
<g class="dr"><circle cx="231" cy="459.9" r="1.2"/><circle cx="226" cy="461.4" r="1.2"/><circle cx="234" cy="478" r="1.2"/>
<circle cx="249" cy="484.8" r="1.2"/><circle cx="256" cy="496.4" r="1.2"/>
<circle cx="274" cy="438" r="1.2"/><circle cx="269" cy="441" r="1.2"/></g>
<g class="tr"><use href="#tri" x="222" y="476"/><use href="#tri" x="231" y="476"/><use href="#tri" x="254" y="492.8"/><use href="#tri" x="272" y="443.9"/></g>
<g class="tp"><use href="#tri" x="225" y="476"/><use href="#tri" x="228" y="476"/><use href="#tri" x="234" y="476"/><use href="#tri" x="245" y="496.4"/><use href="#tri" x="249" y="516.9"/><use href="#tri" x="249" y="525.6"/><use href="#tri" x="244" y="532.9"/><use href="#tri" x="254" y="532.9"/><use href="#tri" x="273" y="481.1"/><use href="#tri" x="267" y="503.7"/><use href="#tri" x="277" y="503"/><use href="#tri" x="266" y="523.5"/><use href="#tri" x="277" y="521.3"/></g>
<text class="lg" x="295" y="527">Cell line</text>
<circle cx="298" cy="534.5" r="2.2" fill="#a3183f"/><text class="lg" x="302" y="536.5">Kolf2.1J</text>
<circle cx="298" cy="543" r="2.2" fill="#55299a"/><text class="lg" x="302" y="545">BIONi037</text>

<!-- ===== Panel k ===== -->
<text class="pl" x="367" y="395">k</text>
<ellipse cx="408" cy="457" rx="19" ry="17" fill="url(#gold)" stroke="#c4a050" stroke-width="0.8"/>
<circle cx="397" cy="482" r="12" fill="url(#gold)" stroke="#c4a050" stroke-width="0.8"/>
<circle cx="427" cy="481" r="9" fill="url(#gold)" stroke="#c4a050" stroke-width="0.8"/>
<path d="M398,449 Q404,444 412,446" stroke="#fbf0cc" stroke-width="1.2" fill="none"/>
<text x="465" y="430" font-size="7.5" text-anchor="middle">ApoE4</text>
<path d="M466,438 L466,463.5 L446,463.5" stroke="#c8565a" stroke-width="2.6" fill="none" marker-end="url(#ahr)"/>
<line x1="475" y1="464.5" x2="447" y2="464.5" stroke="#4a5a70" stroke-width="1.1" marker-end="url(#ahk)"/>
<line x1="449" y1="474.5" x2="474" y2="474.5" stroke="#4a5a70" stroke-width="1.1" marker-end="url(#ahk)"/>
<polygon points="492,471 497.2,474 497.2,480 492,483 486.8,480 486.8,474" fill="#e8952a"/>
<polygon points="502.4,471 507.6,474 507.6,480 502.4,483 497.2,480 497.2,474" fill="#f2c94c"/>
<polygon points="507.6,462 512.8,465 512.8,471 507.6,474 502.4,471 502.4,465" fill="#e8952a"/>
<polygon points="518,462 523.2,465 523.2,471 518,474 512.8,471 512.8,465" fill="#f2c94c"/>
<path d="M523,466 L534,459 M527,463.5 L526.5,456.5" stroke="#e8954a" stroke-width="0.9" fill="none"/>
<line x1="536" y1="469.5" x2="560" y2="469.5" stroke="#4a5a70" stroke-width="1.1" marker-end="url(#ahk)"/>
<path d="M573,449 Q573,446 576,446 L580,446 L580,451 Q583,454 583,458 L583,473 L573,473 Z" fill="#6a3a88"/>
<path d="M587,458 Q586,454 588,451 L588,448 Q588,446 591,446 L594,446 Q597,446 597,449 L597,460 L587,460 Z" fill="#6a3a88"/>
<rect x="587" y="462" width="10" height="11" rx="2" fill="#6a3a88"/>
<line x1="580" y1="473" x2="580" y2="492" stroke="#4a2a60" stroke-width="1.2"/>
<text x="400" y="509" font-size="7.5" text-anchor="middle">Cholesterol ester</text>
<text x="495" y="509" font-size="7.5" text-anchor="middle">Cholesterol</text>
<text x="577" y="509" font-size="7.5" text-anchor="middle">HLA and Immune</text>
<!-- watermark -->
<ellipse cx="438" cy="532" rx="7.5" ry="6.5" fill="#c4c4c4"/>
<ellipse cx="447" cy="537.5" rx="6.5" ry="5.5" fill="#b4b4b4" stroke="#fff" stroke-width="0.8"/>
<circle cx="435.5" cy="530.5" r="1" fill="#fff"/><circle cx="440.5" cy="530.5" r="1" fill="#fff"/>
<circle cx="445" cy="536.5" r="0.8" fill="#fff"/><circle cx="449" cy="536.5" r="0.8" fill="#fff"/>
<text x="460" y="543" font-size="17" style="fill:#adadad" textLength="158">公众号 · 科似海生物</text>
</svg>
</body></html>
